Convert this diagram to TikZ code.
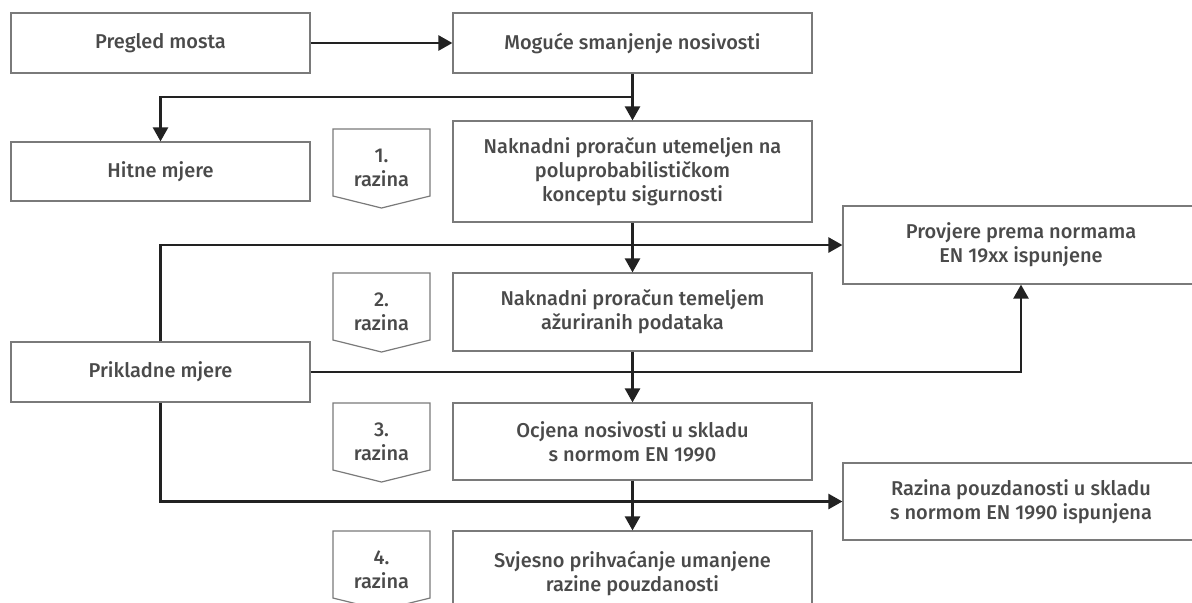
\documentclass[tikz,border=0pt]{standalone}
\usepackage{fontspec}
\setmainfont{Fira Sans}[UprightFont={* Medium}]
\usetikzlibrary{arrows.meta}
\definecolor{boxgray}{HTML}{7A7A7A}
\definecolor{txtgray}{HTML}{4A4A4A}
\definecolor{arrblack}{HTML}{222222}
\begin{document}
\begin{tikzpicture}
    [x=0.5pt, y=-0.5pt,
     box/.style={draw=boxgray, line width=0.6pt, text=txtgray, align=center,
       inner sep=0pt, font=\fontsize{10}{12}\selectfont},
     narrow/.style={box, minimum width=149.5pt, minimum height=30pt},
     wide/.style={box, minimum width=179.5pt},
     side/.style={box, minimum width=178pt, minimum height=39pt},
     lvl/.style={draw=boxgray, line width=0.6pt},
     arr/.style={draw=arrblack, line width=1.25pt,
       -{Triangle[length=7pt,width=7.5pt]}}]
    \useasboundingbox (0,0) rectangle (1192,602);
    \clip (0,0) rectangle (1192,602);

    % left column
    \node[narrow] (pregled) at (160.5,43) {Pregled mosta};
    \node[narrow, minimum height=29.5pt] (hitne) at (160.5,171.5) {Hitne mjere};
    \node[narrow] (prikladne) at (160.5,372) {Prikladne mjere};

    % middle column
    \node[wide, minimum height=30pt] (moguce) at (632.5,43) {Moguće smanjenje nosivosti};
    \node[wide, minimum height=50.5pt] (naknadni1) at (632.5,171.5)
      {Naknadni proračun utemeljen na\\poluprobabilističkom\\konceptu sigurnosti};
    \node[wide, minimum height=39pt] (naknadni2) at (632.5,312)
      {Naknadni proračun temeljem\\ažuriranih podataka};
    \node[wide, minimum height=38.5pt] (ocjena) at (632.5,441.5)
      {Ocjena nosivosti u skladu\\s normom EN 1990};
    \node[wide, minimum height=42pt] (svjesno) at (632.5,573)
      {Svjesno prihvaćanje umanjene\\razine pouzdanosti};

    % right column
    \node[side] (provjere) at (1021,245) {Provjere prema normama\\EN 19xx ispunjene};
    \node[side, minimum height=38.5pt] (razina) at (1021,501.5)
      {Razina pouzdanosti u skladu\\s normom EN 1990 ispunjena};

    % levels
    \foreach \n/\y in {1/129, 2/273, 3/403, 4/531}
    {
      \draw[lvl] (333,\y) -- (430,\y) -- (430,\y+67) -- (381.5,\y+79)
        -- (333,\y+67) -- cycle;
      \node[box, draw=none] (lvl\n) at (381.5,\y+39) {\n.\\razina};
    }

    \coordinate (split) at (632.5,97);

    \draw[arr] (pregled) -- (moguce);
    \draw[arr, -] (moguce) -- (split);
    \draw[arr] (split) -| (hitne);
    \draw[arr] (split) -- (naknadni1);
    \draw[arr] (naknadni1) -- (naknadni2);
    \draw[arr] (naknadni2) -- (ocjena);
    \draw[arr] (ocjena) -- (svjesno);
    \draw[arr] (prikladne.north) |- (provjere);
    \draw[arr] (prikladne) -| (provjere);
    \draw[arr] (prikladne.south) |- (razina);
  \end{tikzpicture}
\end{document}
